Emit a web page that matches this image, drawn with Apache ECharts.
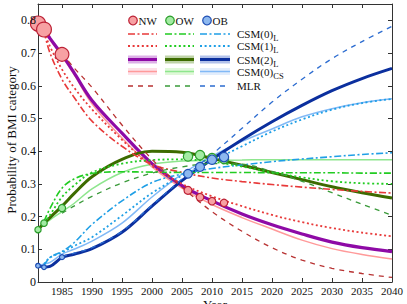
<!DOCTYPE html>
<html><head><meta charset="utf-8">
<script src="https://cdn.jsdelivr.net/npm/echarts@6/dist/echarts.min.js"></script>
<style>html,body{margin:0;padding:0;background:#fff}#c{width:407px;height:304px}</style>
</head><body><div id="c"></div>
<script>
// ---------- data ----------
const years = [1981,1982,1983,1985,1987,1990,1995,2000,2005,2010,2015,2020,2025,2030,2035,2040];
// CSM(2)_L
const csm2NW = [.79,.77,.745,.695,.64,.555,.455,.362,.295,.248,.208,.175,.147,.122,.105,.093];
const csm2OW = [.16,.18,.197,.232,.27,.322,.375,.40,.397,.378,.357,.335,.313,.291,.273,.257];
const csm2OB = [.05,.046,.048,.075,.085,.102,.152,.232,.31,.375,.435,.49,.54,.585,.622,.653];
const csm2NWerr = [.008,.008,.008,.008,.008,.008,.008,.008,.008,.008,.009,.01,.011,.012,.013,.014];
const csm2OWerr = [.008,.008,.008,.008,.008,.008,.008,.009,.009,.01,.011,.012,.013,.014,.014,.015];
const csm2OBerr = [.006,.006,.006,.006,.006,.007,.008,.009,.01,.011,.013,.015,.017,.019,.021,.023];
// CSM(0)_CS
const csNW = [.785,.765,.74,.69,.635,.545,.44,.352,.287,.237,.197,.162,.128,.102,.084,.07];
const csOW = [.16,.175,.19,.215,.24,.285,.335,.36,.37,.372,.373,.374,.374,.374,.374,.374];
const csOB = [.05,.055,.06,.085,.1,.125,.18,.26,.33,.385,.43,.468,.505,.53,.548,.56];
const csNWlo = [.775,.755,.73,.68,.625,.535,.43,.342,.277,.226,.185,.148,.113,.087,.07,.058];
const csNWhi = [.795,.775,.75,.70,.645,.555,.45,.362,.298,.25,.212,.18,.152,.127,.112,.105];
const csOWlo = [.15,.165,.18,.205,.23,.274,.323,.347,.355,.355,.353,.352,.35,.348,.347,.345];
const csOWhi = [.17,.185,.20,.225,.25,.296,.347,.373,.385,.39,.395,.40,.405,.412,.418,.425];
const csOBlo = [.045,.05,.055,.078,.092,.115,.168,.245,.31,.36,.40,.43,.46,.478,.49,.50];
const csOBhi = [.055,.06,.065,.092,.108,.135,.195,.28,.355,.42,.48,.54,.59,.63,.665,.69];
// CSM(0)_L
const csm0NW = [null,.765,.70,.62,.565,.492,.415,.36,.335,.318,.307,.298,.29,.283,.277,.272];
const csm0OW = [null,.185,.225,.287,.315,.332,.337,.336,.335,.335,.335,.334,.334,.334,.333,.333];
const csm0OB = [null,.05,.075,.093,.12,.176,.248,.304,.33,.347,.358,.368,.376,.383,.39,.395];
// CSM(1)_L
const csm1NW = [null,.765,.72,.65,.595,.528,.435,.355,.30,.262,.232,.205,.183,.165,.151,.14];
const csm1OW = [null,.18,.205,.26,.295,.335,.362,.373,.375,.368,.353,.335,.32,.308,.302,.30];
const csm1OB = [null,.055,.075,.09,.11,.137,.203,.272,.325,.37,.415,.46,.497,.527,.547,.56];
// MLR
const mlrNW = [null,null,null,.70,.655,.595,.48,.375,.29,.215,.155,.105,.067,.042,.026,.014];
const mlrOW = [null,null,null,.21,.232,.262,.303,.333,.352,.362,.36,.338,.308,.273,.238,.204];
const mlrOB = [null,null,null,.078,.088,.105,.155,.235,.315,.39,.47,.55,.62,.683,.735,.782];
// observations
const obsYears = [1981,1982,1985,2006,2008,2010,2012];
const obsNW = [.79,.772,.696,.28,.259,.247,.242];
const obsOW = [.16,.18,.226,.384,.388,.379,.376];
const obsOB = [.05,.045,.076,.331,.352,.374,.382];
// y tick values and labels
const yTickValues = [0,0.1,0.2,0.3,0.4,0.5,0.6,0.7,0.8];
const yTickLabels = ['0','0.1','0.2','0.3','0.4','0.5','0.6','0.7','0.8'];

// ---------- build ----------
const FONT = 'Liberation Serif';
const SM = 0.35;
function pairs(v){ return years.map((y,i)=> v[i]==null?null:[y,v[i]]).filter(Boolean); }
function line(vals,color,width,type,z){
  return {type:'line',data:pairs(vals),smooth:SM,symbol:'none',showSymbol:false,
    lineStyle:{color,width,type,cap:'butt'},z,silent:true,animation:false};
}
function band(id,lo,hi,color,z){
  return [
    {type:'line',stack:id,data:years.map((y,i)=>[y,lo[i]]),smooth:SM,symbol:'none',
     lineStyle:{opacity:0,width:0},z,silent:true,animation:false},
    {type:'line',stack:id,data:years.map((y,i)=>[y,hi[i]-lo[i]]),smooth:SM,symbol:'none',
     lineStyle:{opacity:0,width:0},areaStyle:{color,opacity:1},z,silent:true,animation:false}
  ];
}
function errBand(id,v,e,color,z){
  return band(id, v.map((x,i)=>x-e[i]), v.map((x,i)=>x+e[i]), color, z);
}
function scatter(vals,fill,stroke){
  return {type:'scatter',data:obsYears.map((y,i)=>[y,vals[i]]),symbol:'circle',
    symbolSize:d=>4+14*d[1],itemStyle:{color:fill,borderColor:stroke,borderWidth:1.2,opacity:1},z:10,silent:true,animation:false};
}
const DASHDOT=[7,2.5,2,2.5], DOT=[2,2.6], DASH=[5,5];
const C = {
  nwL:'#e83a3a', owL:'#22cc22', obL:'#1f9fe6',
  nw2:'#8e0aa6', ow2:'#3d6b00', ob2:'#0b2f9e',
  nw2b:'rgba(214,150,224,0.75)', ow2b:'rgba(150,178,120,0.75)', ob2b:'rgba(140,160,218,0.8)',
  nwc:'#ff9a9a', owc:'#8ee68e', obc:'#82b9f6',
  nwcb:'#fde0e7', owcb:'#e1f7da', obcb:'#e2edfc',
  nwm:'#b83232', owm:'#3a9a3a', obm:'#2c6cd0'
};
const series = [].concat(
  band('cNW',csNWlo,csNWhi,C.nwcb,1), band('cOW',csOWlo,csOWhi,C.owcb,1), band('cOB',csOBlo,csOBhi,C.obcb,1),
  errBand('eNW',csm2NW,csm2NWerr,C.nw2b,2), errBand('eOW',csm2OW,csm2OWerr,C.ow2b,2), errBand('eOB',csm2OB,csm2OBerr,C.ob2b,2),
  [line(csNW,C.nwc,1.5,'solid',3), line(csOW,C.owc,1.5,'solid',3), line(csOB,C.obc,1.5,'solid',3)],
  [line(csm2NW,C.nw2,3.2,'solid',4), line(csm2OW,C.ow2,3,'solid',4), line(csm2OB,C.ob2,3,'solid',4)],
  [line(csm0NW,C.nwL,1.6,DASHDOT,5), line(csm0OW,C.owL,1.6,DASHDOT,5), line(csm0OB,C.obL,1.6,DASHDOT,5)],
  [line(csm1NW,C.nwL,1.8,DOT,5), line(csm1OW,C.owL,1.8,DOT,5), line(csm1OB,C.obL,1.8,DOT,5)],
  [line(mlrNW,C.nwm,1.3,DASH,5), line(mlrOW,C.owm,1.3,DASH,5), line(mlrOB,C.obm,1.3,DASH,5)],
  [scatter(obsNW,'#f7a1a3','#bd2236'), scatter(obsOW,'#a3eba3','#2a9d2a'), scatter(obsOB,'#8db8ef','#1f4fb5')]
);

// ---------- legend (graphic) ----------
const G = [];
const txt = (x,y,t,size)=>({type:'text',x,y,silent:true,z:100,style:{text:t,fontFamily:FONT,fontSize:size||11,fill:'#111',align:'left',verticalAlign:'middle'}});
const seg = (x1,x2,y,color,w,dash)=>({type:'line',silent:true,z:100,shape:{x1,y1:y,x2,y2:y},style:{stroke:color,lineWidth:w,lineDash:dash||null}});
const rct = (x1,x2,y,h,color)=>({type:'rect',silent:true,z:99,shape:{x:x1,y:y-h/2,width:x2-x1,height:h},style:{fill:color}});
[[133,'#f7a1a3','#bd2236','NW'],[170,'#a3eba3','#2a9d2a','OW'],[207,'#8db8ef','#1f4fb5','OB']].forEach(m=>{
  G.push({type:'circle',silent:true,z:100,shape:{cx:m[0],cy:20.5,r:4.3},style:{fill:m[1],stroke:m[2],lineWidth:1.2}});
  G.push(txt(m[0]+5.5,21,m[3]));
});
const cols=[[128,157],[165,194],[200,230]];
const rowY=[34,46,59.5,71.5,86];
const colsL=[C.nwL,C.owL,C.obL], cols2=[C.nw2,C.ow2,C.ob2], cols2b=['#dcb0e6','#bfd3a8','#b3c2ea'];
const colsC=[C.nwc,C.owc,C.obc], colsCb=['#fde0e7','#dff8d8','#e2edfc'], colsM=[C.nwm,C.owm,C.obm];
cols.forEach((c,i)=>{
  G.push(seg(c[0],c[1],rowY[0],colsL[i],1.6,DASHDOT));
  G.push(seg(c[0],c[1],rowY[1],colsL[i],1.8,DOT));
  G.push(rct(c[0],c[1],rowY[2],8,cols2b[i])); G.push(seg(c[0],c[1],rowY[2],cols2[i],3));
  G.push(rct(c[0],c[1],rowY[3],7,colsCb[i])); G.push(seg(c[0],c[1],rowY[3],colsC[i],1.5));
  G.push(seg(c[0],c[1],rowY[4],colsM[i],1.3,DASH));
});
const LX=237, SUBX=LX+36.3;
[['CSM(0)','L'],['CSM(1)','L'],['CSM(2)','L'],['CSM(0)','CS'],['MLR','']].forEach((l,i)=>{
  G.push(txt(LX,rowY[i],l[0]));
  if(l[1]) G.push(txt(SUBX,rowY[i]+4,l[1],8.5));
});
// axis titles
G.push({type:'text',x:11,y:140,rotation:Math.PI/2,silent:true,z:100,
  style:{text:'Probability of BMI category',fontFamily:FONT,fontSize:13,fill:'#111',align:'center',verticalAlign:'middle'}});
G.push({type:'text',x:215,y:297.5,silent:true,z:100,
  style:{text:'Year',fontFamily:FONT,fontSize:13,fill:'#111',align:'center',verticalAlign:'top'}});

const axCommon = {splitLine:{show:false},axisLine:{show:true,onZero:false,lineStyle:{color:'#333',width:1}},
  axisTick:{show:true,inside:true,length:4,lineStyle:{color:'#333',width:1}}};
const xBase = Object.assign({type:'value',min:1981,max:2040,splitNumber:12,minInterval:5,maxInterval:5},axCommon);
const yBase = Object.assign({type:'value',min:0,max:0.85,interval:0.1},axCommon);

const chart = echarts.init(document.getElementById('c'),null,{renderer:'svg'});
chart.setOption({
  animation:false,
  backgroundColor:'#fff',
  grid:{left:38,right:15,top:4,bottom:22},
  xAxis:[
    Object.assign({},xBase,{position:'bottom',
      axisLabel:{showMinLabel:false,fontFamily:FONT,fontSize:11,color:'#111',margin:3,formatter:v=>String(v)}}),
    Object.assign({},xBase,{position:'top',axisLabel:{show:false}})
  ],
  yAxis:[
    Object.assign({},yBase,{position:'left',axisLabel:{show:false}}),
    Object.assign({},yBase,{position:'right',axisLabel:{show:false}})
  ],
  series,
  graphic:G
});
// y tick labels placed through the y axis scale (right edge just left of the axis line)
const axisX = Number(chart.convertToPixel({xAxisIndex:0}, 1981));
const yLab = yTickValues.map((v,i)=>({
  type:'text', x:axisX-2, y:Number(chart.convertToPixel({yAxisIndex:0}, v)), silent:true, z:100,
  style:{text:yTickLabels[i],fontFamily:FONT,fontSize:12,fill:'#111',align:'right',textAlign:'right',verticalAlign:'middle',textVerticalAlign:'middle'}
}));
chart.setOption({graphic:G.concat(yLab)});
</script></body></html>
